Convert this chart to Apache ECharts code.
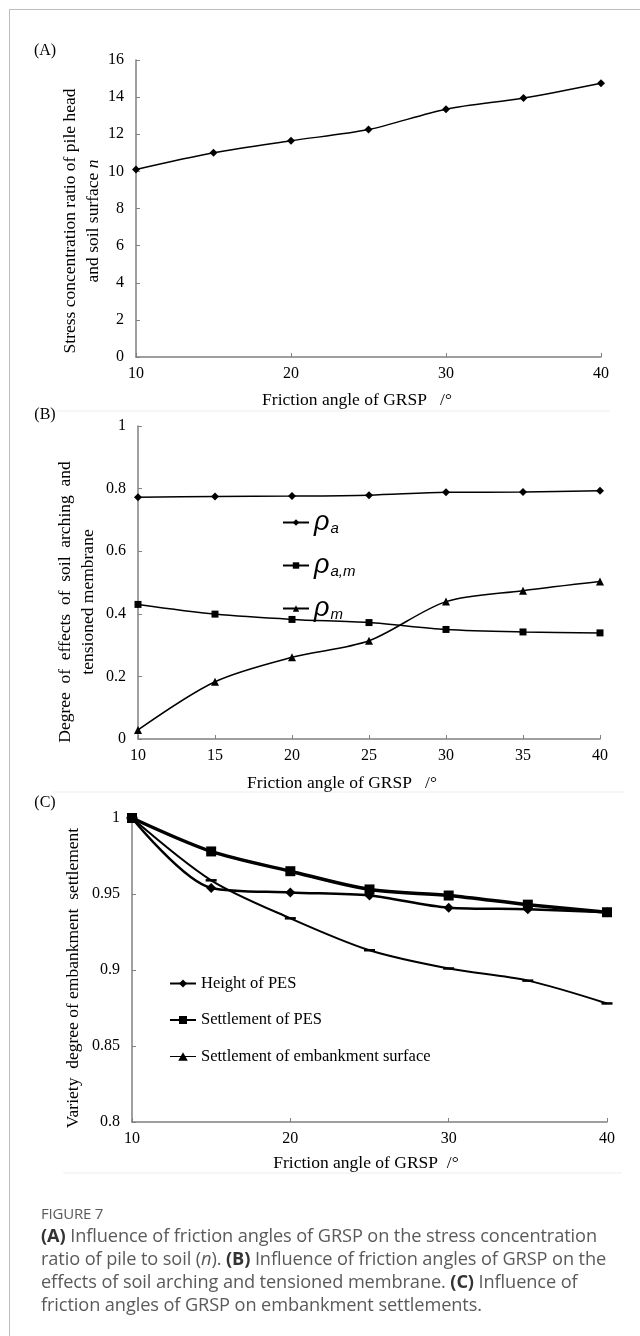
<!DOCTYPE html>
<html>
<head>
<meta charset="utf-8">
<title>Figure 7</title>
<script src="https://cdn.jsdelivr.net/npm/echarts@6/dist/echarts.min.js"></script>
<style>
  body { margin: 0; background: #fff; }
  #wrap { position: relative; width: 640px; height: 1336px; overflow: hidden; }
  #chart { position: absolute; left: 0; top: 0; width: 640px; height: 1336px; }
  #frame { position: absolute; left: 9px; top: 9px; width: 700px; height: 1400px;
           border-left: 1px solid #bdbdbd; border-top: 1px solid #bdbdbd; }
  #caption { position: absolute; left: 41px; top: 1203px; font-family: 'Open Sans', sans-serif; color: #5a5a5a; }
  #caption .fig { font-size: 15px; line-height: 21px; letter-spacing: -0.2px; }
  #caption .txt { font-size: 18.2px; line-height: 23px; white-space: nowrap; letter-spacing: -0.1px; }
  #caption b { color: #333; }
</style>
</head>
<body>
<div id="wrap">
  <div id="frame"></div>
  <div id="chart"></div>
  <div id="caption">
    <div class="fig">FIGURE 7</div>
    <div class="txt">
      <b>(A)</b> Influence of friction angles of GRSP on the stress concentration<br>
      ratio of pile to soil (<i>n</i>). <b>(B)</b> Influence of friction angles of GRSP on the<br>
      effects of soil arching and tensioned membrane. <b>(C)</b> Influence of<br>
      friction angles of GRSP on embankment settlements.
    </div>
  </div>
</div>
<script>
// 摩擦角（横轴）
const angles = [10, 15, 20, 25, 30, 35, 40];

// (A) 桩土应力比 n
const stressRatio = [10.1, 11.0, 11.65, 12.25, 13.35, 13.95, 14.75];

// (B) 土拱 / 拉膜效应发挥程度
const rhoA = [0.772, 0.775, 0.776, 0.779, 0.788, 0.789, 0.793];
const rhoAM = [0.430, 0.399, 0.382, 0.372, 0.350, 0.342, 0.339];
const rhoM = [0.029, 0.183, 0.261, 0.314, 0.439, 0.474, 0.503];

// (C) 路堤沉降变化程度
const heightPES = [1, 0.954, 0.951, 0.949, 0.941, 0.940, 0.938];
const settlePES = [1, 0.978, 0.965, 0.953, 0.949, 0.943, 0.938];
const settleSurface = [1, 0.959, 0.934, 0.913, 0.901, 0.893, 0.878];

const namesB = ['ρa', 'ρa,m', 'ρm'];
const namesC = ['Height of PES', 'Settlement of PES', 'Settlement of embankment surface'];

const SERIF = 'Liberation Serif';
const AXIS_GRAY = '#808080';

const pairs = ys => angles.map((x, i) => [x, ys[i]]);

function xAxisOf(gi, interval) {
  return {
    type: 'value', gridIndex: gi, min: 10, max: 40, interval: interval,
    axisLine: { show: true, onZero: false, lineStyle: { color: AXIS_GRAY, width: 1.5 } },
    axisTick: { show: true, inside: true, length: 4, lineStyle: { color: AXIS_GRAY } },
    axisLabel: { color: '#000', fontFamily: SERIF, fontSize: 16, margin: 9 },
    splitLine: { show: false }
  };
}

function yAxisOf(gi, min, max, interval) {
  return {
    type: 'value', gridIndex: gi, min: min, max: max, interval: interval,
    axisLine: { show: true, onZero: false, lineStyle: { color: AXIS_GRAY, width: 1.5 } },
    axisTick: { show: true, inside: true, length: 4, lineStyle: { color: AXIS_GRAY } },
    axisLabel: { color: '#000', fontFamily: SERIF, fontSize: 16, margin: 12 },
    splitLine: { show: false }
  };
}

function lineOf(name, gi, ys, symbol, size, width) {
  return {
    name: name, type: 'line', xAxisIndex: gi, yAxisIndex: gi,
    data: pairs(ys), smooth: 0.3,
    symbol: symbol, symbolSize: size,
    lineStyle: { color: '#000', width: width },
    itemStyle: { color: '#000' },
    emphasis: { disabled: true }
  };
}

function label(text, x, y, size) {
  return {
    type: 'text', x: x, y: y,
    style: { text: text, font: (size || 16) + 'px ' + SERIF, fill: '#000', align: 'center', verticalAlign: 'middle' }
  };
}

function yName(text, x, y) {
  return {
    type: 'text', x: x, y: y, rotation: Math.PI / 2,
    style: {
      text: text, fill: '#000', align: 'center', verticalAlign: 'middle',
      rich: {
        t: { fontFamily: SERIF, fontSize: 17.5, color: '#000', lineHeight: 23 },
        i: { fontFamily: SERIF, fontSize: 17.5, fontStyle: 'italic', color: '#000', lineHeight: 23 }
      }
    }
  };
}

function sepLine(x1, y, x2) {
  return { type: 'line', shape: { x1: x1, y1: y, x2: x2, y2: y }, style: { stroke: '#ededed', lineWidth: 1 } };
}

const chart = echarts.init(document.getElementById('chart'), null, { renderer: 'canvas' });

chart.setOption({
  animation: false,
  grid: [
    { left: 136, top: 60, width: 465, height: 297 },
    { left: 138, top: 426, width: 462, height: 313 },
    { left: 132, top: 818, width: 475, height: 304 }
  ],
  xAxis: [xAxisOf(0, 10), xAxisOf(1, 5), xAxisOf(2, 10)],
  yAxis: [yAxisOf(0, 0, 16, 2), yAxisOf(1, 0, 1, 0.2), yAxisOf(2, 0.8, 1, 0.05)],
  legend: [
    {
      data: namesB, orient: 'vertical', left: 282, top: 509, padding: 0,
      itemWidth: 26, itemHeight: 8, itemGap: 16, selectedMode: false,
      formatter: function (n) {
        const sub = { 'ρa': 'a', 'ρa,m': 'a,m', 'ρm': 'm' }[n];
        return '{r|ρ}{s|' + sub + '}';
      },
      textStyle: {
        rich: {
          r: { fontFamily: 'Liberation Sans', fontStyle: 'italic', fontSize: 27, color: '#000' },
          s: { fontFamily: 'Liberation Sans', fontStyle: 'italic', fontSize: 15, color: '#000',
               verticalAlign: 'bottom', padding: [0, 0, 0, 1] }
        }
      }
    },
    {
      data: [
        namesC[0],
        namesC[1],
        { name: namesC[2], icon: 'path://M0,4.4H30V5.6H0Z M15,0L20.5,10H9.5Z' }
      ],
      orient: 'vertical', left: 169, top: 975, padding: 0,
      itemWidth: 26, itemHeight: 10, itemGap: 19.5, selectedMode: false,
      textStyle: { fontFamily: SERIF, fontSize: 16.5, color: '#000' }
    }
  ],
  series: [
    lineOf('n', 0, stressRatio, 'diamond', 8, 1.5),
    lineOf(namesB[0], 1, rhoA, 'diamond', 8, 1.5),
    lineOf(namesB[1], 1, rhoAM, 'rect', 7, 1.5),
    lineOf(namesB[2], 1, rhoM, 'triangle', 8, 1.5),
    lineOf(namesC[0], 2, heightPES, 'diamond', 10, 2.5),
    lineOf(namesC[1], 2, settlePES, 'rect', 10, 3.5),
    lineOf(namesC[2], 2, settleSurface, 'rect', [11, 2.5], 2)
  ],
  graphic: [
    sepLine(57, 411, 610),
    sepLine(53, 792, 624),
    sepLine(63, 1173, 622),
    label('(A)', 45, 51, 16),
    label('(B)', 45, 415, 16),
    label('(C)', 45, 803, 16),
    label('Friction angle of GRSP   /°', 357, 400, 17.5),
    label('Friction angle of GRSP   /°', 342, 783, 17.5),
    label('Friction angle of GRSP  /°', 366, 1163, 17.5),
    yName('{t|Stress concentration ratio of pile head}\n{t|and soil surface }{i|n}', 82, 221),
    yName('{t|Degree  of  effects  of  soil  arching  and}\n{t|tensioned membrane}', 77, 602),
    yName('{t|Variety  degree of embankment  settlement}', 73, 978)
  ]
});
</script>
</body>
</html>
